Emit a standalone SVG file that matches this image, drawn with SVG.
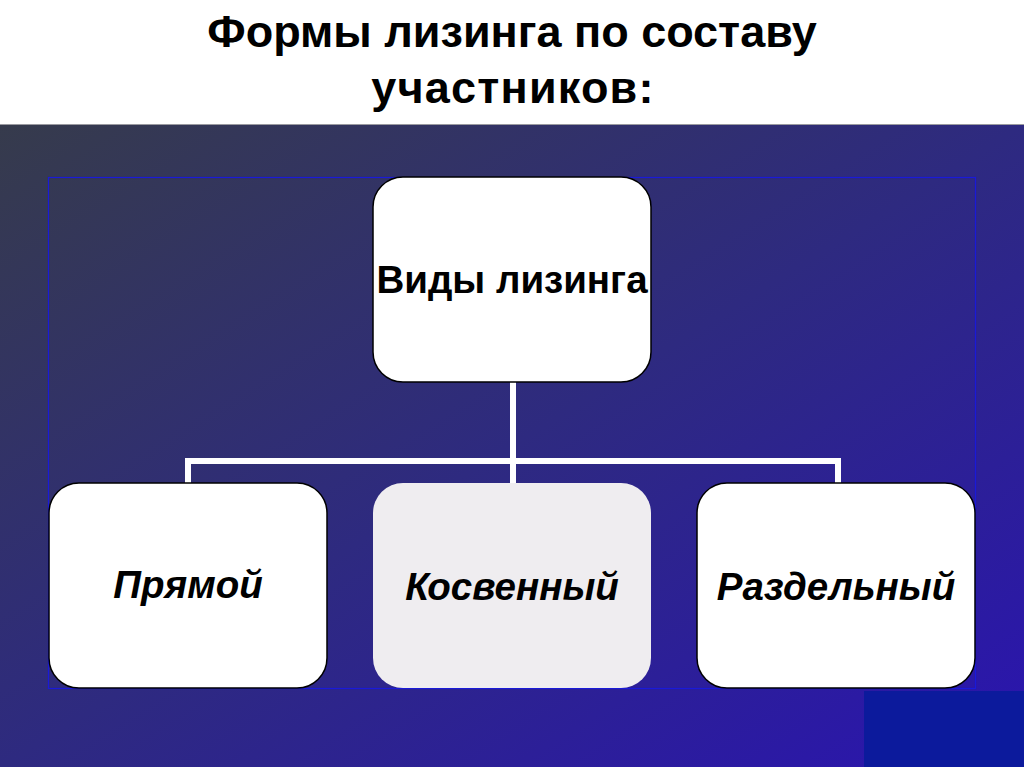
<svg xmlns="http://www.w3.org/2000/svg" width="1024" height="767" viewBox="0 0 1024 767">
<defs>
<linearGradient id="bg" x1="0" y1="0" x2="1" y2="1">
<stop offset="0" stop-color="#363b4c"/>
<stop offset="0.5" stop-color="#2e2a80"/>
<stop offset="1" stop-color="#2a14b0"/>
</linearGradient>
<style>
.title{font-family:"Liberation Sans",Arial,sans-serif;font-weight:bold;font-size:45px;fill:#000;text-anchor:middle}
.box{fill:#fff;stroke:#000;stroke-width:1.5}
.lbl{font-family:"Liberation Sans",Arial,sans-serif;font-weight:bold;font-size:38.5px;fill:#000;text-anchor:middle}
.it{font-style:italic}
.conn{fill:none;stroke:#fff;stroke-width:6}
</style>
</defs>
<rect x="0" y="0" width="1024" height="767" fill="#fff"/>
<rect x="0" y="124" width="1024" height="643" fill="url(#bg)"/>
<line x1="0" y1="124.5" x2="1024" y2="124.5" stroke="#9a9aa0" stroke-width="1"/>
<rect x="864" y="691" width="160" height="76" fill="#0c1a9c"/>
<rect x="48.5" y="177.5" width="927" height="511" fill="none" stroke="#1a1ad8" stroke-width="1.2"/>
<text class="title" x="512" y="47">Формы лизинга по составу</text>
<text class="title" x="513" y="103" letter-spacing="1.2">участников:</text>
<g id="connectors">
<path class="conn" d="M513 382 V483 M188 483 V461 H838 V483"/>
</g>
<g id="root">
<rect class="box" x="373" y="177" width="278" height="205" rx="30"/>
<text class="lbl" x="512" y="293">Виды лизинга</text>
</g>
<g id="direct">
<rect class="box" x="49" y="483" width="278" height="205" rx="30"/>
<text class="lbl it" x="188" y="598">Прямой</text>
</g>
<g id="indirect">
<rect class="box" x="373" y="483" width="278" height="205" rx="30" style="fill:#efedf0;stroke:none"/>
<text class="lbl it" x="512" y="600">Косвенный</text>
</g>
<g id="separate">
<rect class="box" x="697" y="483" width="278" height="205" rx="30"/>
<text class="lbl it" x="836" y="600">Раздельный</text>
</g>
</svg>
